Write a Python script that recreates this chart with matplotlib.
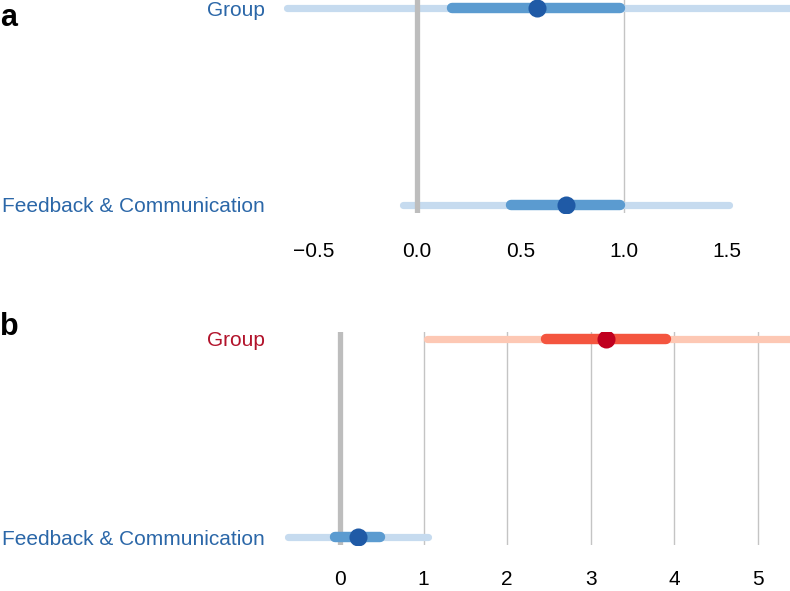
import matplotlib
matplotlib.use('Agg')
import matplotlib.pyplot as plt

plt.rcParams['font.family'] = ['Liberation Sans', 'DejaVu Sans']

# rows, bottom to top
rows = ['Feedback & Communication', 'Group']

# panel a
a_point = [0.72, 0.58]
a_inner_lo = [0.455, 0.17]
a_inner_hi = [0.985, 0.985]
a_outer_lo = [-0.07, -0.63]
a_outer_hi = [1.51, 2.0]
a_ticks = [-0.5, 0.0, 0.5, 1.0, 1.5]
a_ticklabels = ['\u22120.5', '0.0', '0.5', '1.0', '1.5']
a_grid = [1.0]

# panel b
b_point = [0.21, 3.18]
b_inner_lo = [-0.06, 2.47]
b_inner_hi = [0.48, 3.9]
b_outer_lo = [-0.62, 1.04]
b_outer_hi = [1.05, 5.6]
b_ticks = [0, 1, 2, 3, 4, 5]
b_ticklabels = ['0', '1', '2', '3', '4', '5']
b_grid = [1, 2, 3, 4, 5]

blues = ('#c6dbef', '#5b9bd0', '#1f5aa6', '#2b67a8')
reds = ('#fdc8b4', '#f4553f', '#c0001f', '#b2132b')


def draw_panel(ax, point, ilo, ihi, olo, ohi, palettes, ticks, ticklabels, grid, xlim, ylim, xpad):
    for g in grid:
        ax.axvline(g, color='#c4c4c4', lw=1.0, zorder=0.5)
    ax.axvline(0, color='#bdbdbd', lw=3.8, zorder=2)
    for i in range(len(rows)):
        light, mid, dark, _ = palettes[i]
        ax.plot([olo[i], ohi[i]], [i, i], color=light, lw=5.2,
                solid_capstyle='round', zorder=1)
        ax.plot([ilo[i], ihi[i]], [i, i], color=mid, lw=7.5,
                solid_capstyle='round', zorder=3)
        ax.plot(point[i], i, 'o', color=dark, ms=13, mec='none', zorder=4)
    ax.set_xlim(*xlim)
    ax.set_ylim(*ylim)
    ax.set_xticks(ticks)
    ax.set_xticklabels(ticklabels, fontsize=15)
    ax.set_yticks(range(len(rows)))
    ax.set_yticklabels(rows, fontsize=15)
    for lab, pal in zip(ax.get_yticklabels(), palettes):
        lab.set_color(pal[3])
    ax.tick_params(axis='x', length=0, pad=xpad)
    ax.tick_params(axis='y', length=0, pad=11)
    for s in ax.spines.values():
        s.set_visible(False)


fig = plt.figure(figsize=(7.9, 5.91), dpi=100)
left = 280 / 790
ax_a = fig.add_axes([left, 1 - 213 / 591, 1 - left, 213 / 591])
ax_b = fig.add_axes([left, 1 - 545 / 591, 1 - left, 213 / 591])

draw_panel(ax_a, a_point, a_inner_lo, a_inner_hi, a_outer_lo, a_outer_hi,
           [blues, blues], a_ticks, a_ticklabels, a_grid,
           ((280 - 417) / 206.5, (790 - 417) / 206.5), (-0.041, 1.041), 21)
draw_panel(ax_b, b_point, b_inner_lo, b_inner_hi, b_outer_lo, b_outer_hi,
           [blues, reds], b_ticks, b_ticklabels, b_grid,
           ((280 - 340) / 83.6, (790 - 340) / 83.6), (-0.04, 1.035), 18)

fig.text(0.0, 1 - 18 / 591, 'a', fontsize=22, fontweight='bold', va='center', ha='left')
fig.text(0.0, 1 - 327 / 591, 'b', fontsize=22, fontweight='bold', va='center', ha='left')

fig.savefig('out.png', dpi=100)
